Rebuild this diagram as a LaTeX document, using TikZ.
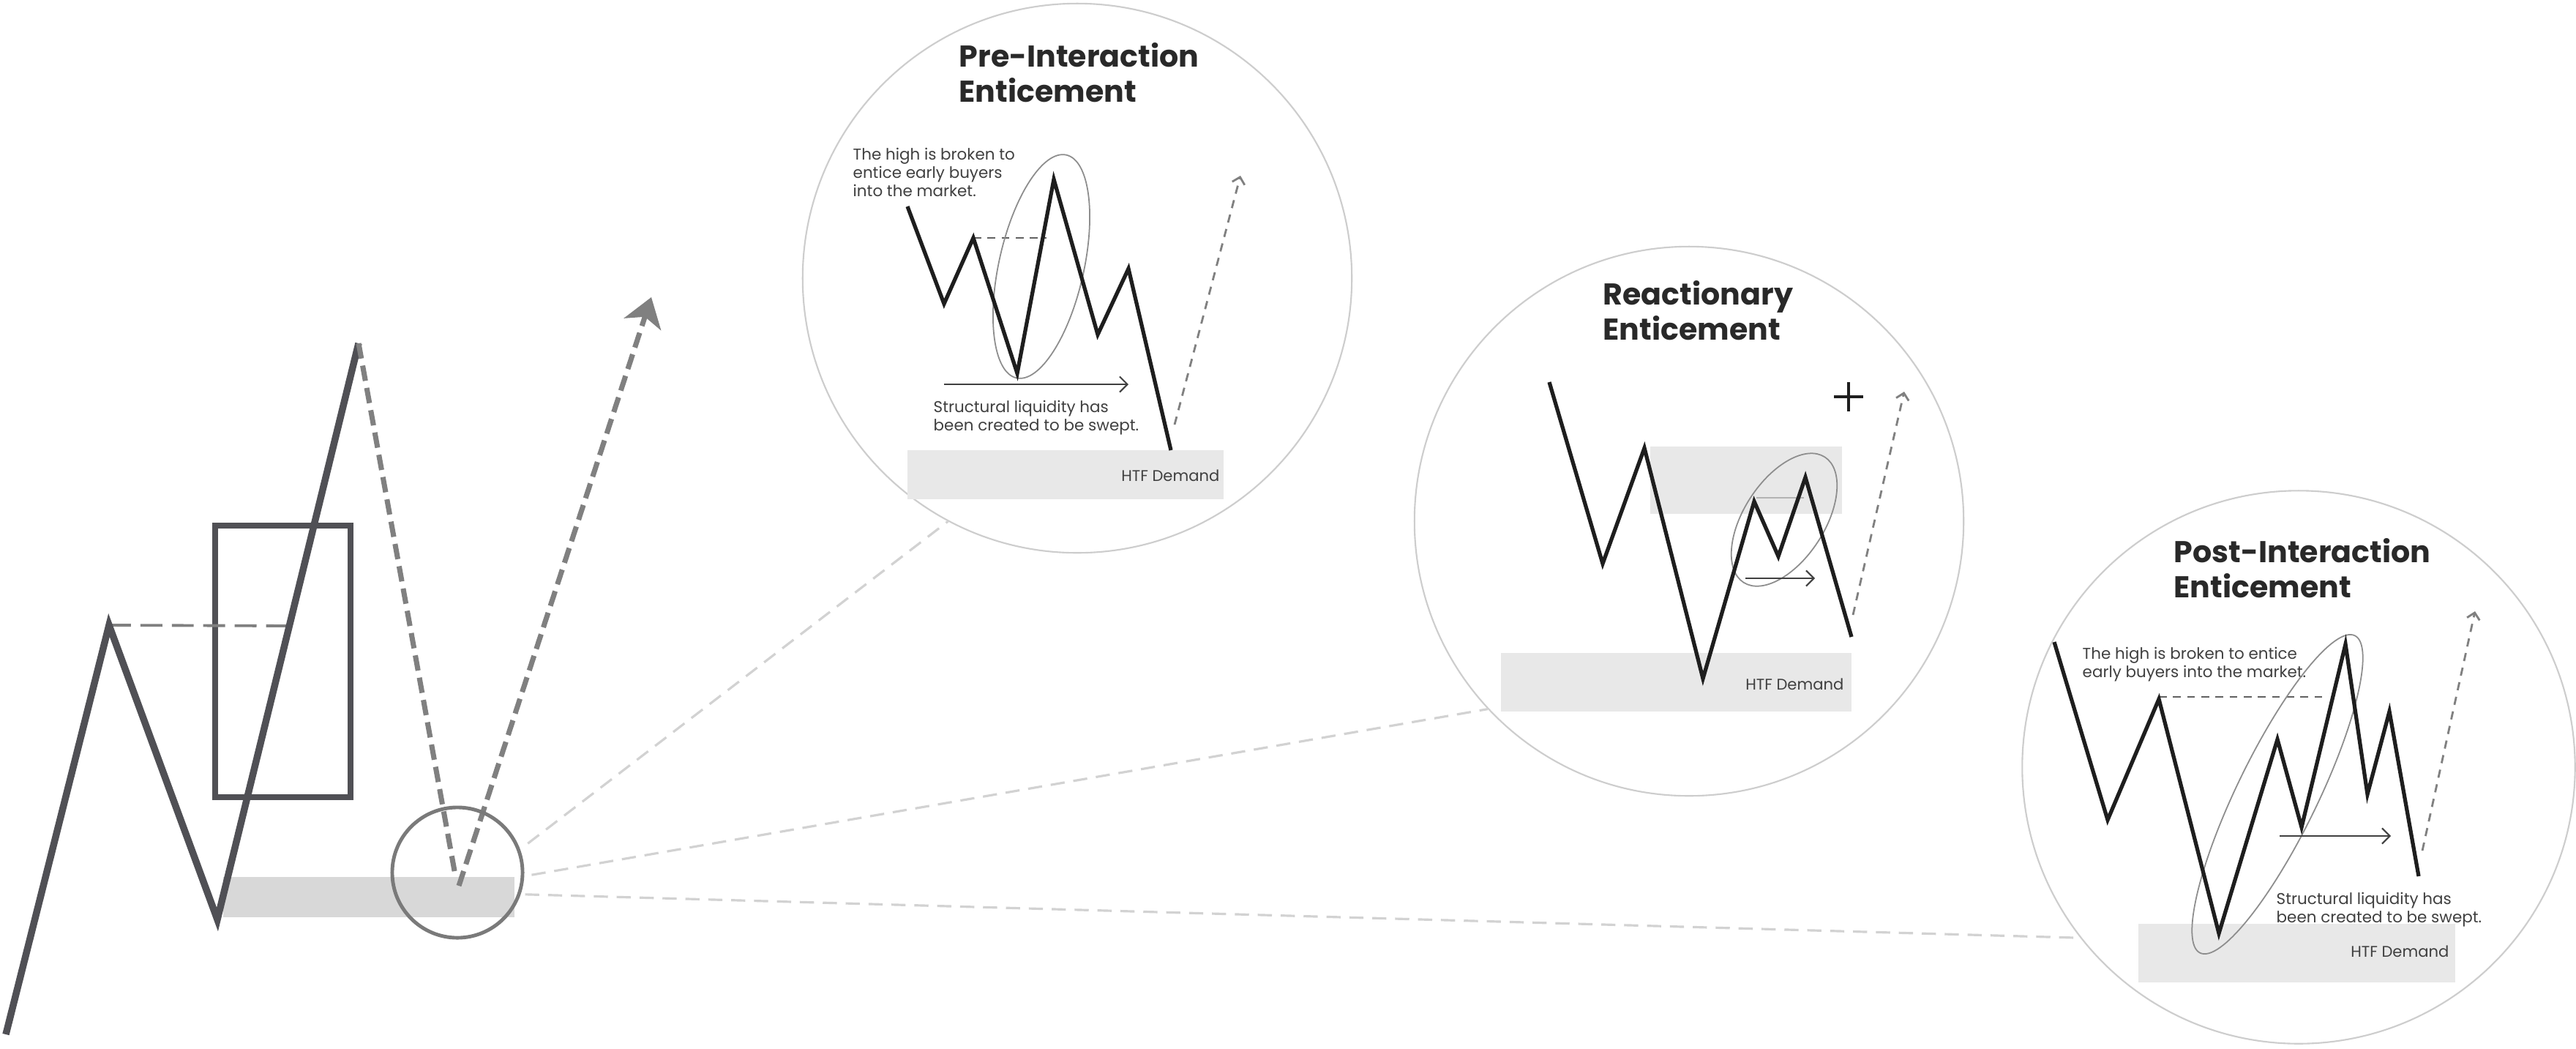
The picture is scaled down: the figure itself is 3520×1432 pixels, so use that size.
\documentclass[tikz,border=0pt]{standalone}
\usepackage{fontspec}
\setmainfont{Poppins}
\usetikzlibrary{arrows.meta}
\definecolor{chartgray}{HTML}{505055}
\definecolor{dashgray}{HTML}{808080}
\definecolor{bandgray}{HTML}{D8D8D8}
\definecolor{lensgray}{HTML}{7A7A7A}
\definecolor{linkgray}{HTML}{D2D2D2}
\definecolor{ringgray}{HTML}{CDCDCD}
\definecolor{zonegray}{HTML}{E8E8E8}
\definecolor{inkblack}{HTML}{1E1E1E}
\begin{document}
\begin{tikzpicture}[x=0.01cm,y=-0.01cm,
  bigline/.style={chartgray,line width=2.7pt,line join=miter},
  bigdash/.style={dashgray,line width=2pt,dash pattern=on 6pt off 2.8pt},
  levelline/.style={dashgray,line width=1.1pt,dash pattern=on 8.5pt off 3.7pt},
  link/.style={linkgray,line width=0.9pt,dash pattern=on 5.5pt off 3.4pt},
  ring/.style={circle,draw=ringgray,line width=0.6pt,inner sep=0pt,minimum size=7.5cm},
  inkline/.style={inkblack,line width=1.5pt,line join=miter},
  inkdash/.style={inkblack!70,line width=0.8pt,dash pattern=on 3pt off 2.5pt},
  hookdash/.style={dashgray,line width=0.8pt,dash pattern=on 3.2pt off 2.6pt,-{Straight Barb[length=2.5pt,width=5pt]}},
  loop/.style={dashgray!90,line width=0.5pt},
  flow/.style={inkblack!85,line width=0.6pt,-{Straight Barb[length=3pt,width=6pt]}},
  title/.style={font=\fontsize{11.7}{13.7}\selectfont\bfseries,text=inkblack!95,align=left,inner sep=0pt},
  note/.style={font=\fontsize{6.1}{7.2}\selectfont,text=inkblack!85,align=left,inner sep=0pt},
  zonelabel/.style={font=\fontsize{6}{7}\selectfont,text=inkblack!85,inner sep=0pt}
]
\useasboundingbox (0,0) rectangle (3520,1432);
\fill[white] (0,0) rectangle (3520,1432);

% ---------------- left chart ----------------
\fill[bandgray] (305,1198) rectangle (703,1253);
\coordinate (p0) at (8,1413);
\coordinate (p1) at (149,854);
\coordinate (p2) at (297,1256);
\coordinate (p3) at (490,469);
\coordinate (lv) at (396,855);
\coordinate (dn) at (622,1195);
\coordinate (up0) at (627,1210);
\coordinate (up1) at (890,406);
\draw[chartgray,line width=2.3pt] (294,718) rectangle (479,1089);
\draw[levelline] (p1) -- (lv);
\draw[bigline] (p0) -- (p1) -- (p2) -- (p3);
\draw[bigdash] (p3) -- (dn);
\draw[bigdash,-{Stealth[length=11pt,width=15pt,inset=3pt]}] (up0) -- (up1);
\node[circle,draw=lensgray,line width=1.4pt,inner sep=0pt,minimum size=1.78cm] (lens) at (625,1192) {};

% ---------------- rings ----------------
\node[ring] (c1) at (1472,380) {};
\node[ring] (c2) at (2308,712) {};
\node[ring,minimum size=7.55cm] (c3) at (3141,1048) {};

\draw[link] ([shift={(12,-4)}]lens.23) -- (c1.242);
\draw[link] ([shift={(10,0)}]lens.358) -- (c2.223);
\draw[link] ([shift={(6,0)}]lens.341) -- (c3.218);

% ---------------- ring 1: Pre-Interaction ----------------
\fill[zonegray] (1240,615) rectangle (1672,682);
\node[title,anchor=north west] (t1) at (1310,58) {Pre-Interaction\\Enticement};
\node[note,anchor=north west] (n1a) at (1165,201) {The high is broken to\\entice early buyers\\into the market.};
\draw[inkdash] (1330,325) -- (1430,325);
\draw[loop,rotate around={77.4:(1423,364)}] (1423,364) ellipse [x radius=1.56cm,y radius=0.58cm];
\draw[inkline] (1240,282) -- (1290,415) -- (1330,325) -- (1390,510) -- (1440,245) -- (1500,457) -- (1542,367) -- (1600,615);
\draw[flow] (1290,525) -- (1542,525);
\node[note,anchor=north west] (n1b) at (1275,546) {Structural liquidity has\\been created to be swept.};
\node[zonelabel,anchor=east] (z1) at (1667,650) {HTF Demand};
\draw[hookdash] (1605,580) -- (1695,240);

% ---------------- ring 2: Reactionary ----------------
\fill[zonegray] (2051,892) rectangle (2530,972);
\fill[zonegray] (2255,610) rectangle (2517,702);
\draw[dashgray!60,line width=0.5pt] (2400,680) -- (2465,680);
\node[title,anchor=north west] (t2) at (2190,383) {Reactionary\\Enticement};
\draw[loop,rotate around={57:(2438,710)}] (2438,710) ellipse [x radius=1.02cm,y radius=0.55cm];
\draw[inkline] (2117,522) -- (2190,770) -- (2247,612) -- (2327,927) -- (2397,685) -- (2430,760) -- (2467,652) -- (2530,870);
\draw[flow] (2385,790) -- (2480,790);
\draw[inkblack,line width=1.2pt] (2506,542) -- (2546,542) (2526,522) -- (2526,562);
\node[zonelabel,anchor=east] (z2) at (2520,935) {HTF Demand};
\draw[hookdash] (2532,840) -- (2602,535);

% ---------------- ring 3: Post-Interaction ----------------
\fill[zonegray] (2922,1262) rectangle (3355,1342);
\node[title,anchor=north west] (t3) at (2970,735) {Post-Interaction\\Enticement};
\node[note,anchor=north west] (n3a) at (2845,883) {The high is broken to entice\\early buyers into the market.};
\draw[inkdash] (2950,952) -- (3175,952);
\draw[loop,rotate around={64:(3112,1085)}] (3112,1085) ellipse [x radius=2.41cm,y radius=0.55cm];
\draw[inkline] (2807,877) -- (2880,1120) -- (2950,955) -- (3032,1275) -- (3112,1010) -- (3145,1130) -- (3205,880) -- (3235,1085) -- (3265,972) -- (3305,1197);
\draw[flow] (3115,1142) -- (3267,1142);
\node[note,anchor=north west] (n3b) at (3110,1218) {Structural liquidity has\\been created to be swept.};
\node[zonelabel,anchor=east] (z3) at (3347,1300) {HTF Demand};
\draw[hookdash] (3310,1162) -- (3382,835);
\end{tikzpicture}
\end{document}
